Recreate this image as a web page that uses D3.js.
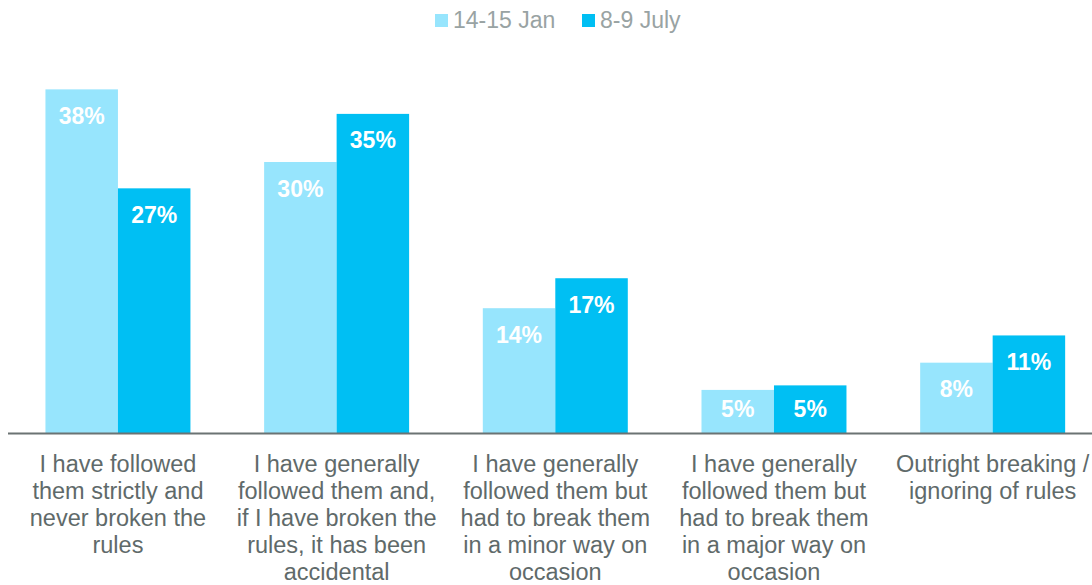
<!DOCTYPE html>
<meta charset="utf-8">
<script src="https://d3js.org/d3.v7.min.js"></script>
<style>
  body { margin: 0; background: #fff; }
  text { font-family: "Liberation Sans", Arial, sans-serif; }
</style>
<div id="chart"></div>
<script>

// categories (tick labels, one entry per line)
const categories = [
  ["I have followed", "them strictly and", "never broken the", "rules"],
  ["I have generally", "followed them and,", "if I have broken the", "rules, it has been", "accidental"],
  ["I have generally", "followed them but", "had to break them", "in a minor way on", "occasion"],
  ["I have generally", "followed them but", "had to break them", "in a major way on", "occasion"],
  ["Outright breaking /", "ignoring of rules"]
]
const seriesNames = ["14-15 Jan", "8-9 July"]
const jan = [37.9, 29.9, 13.8, 4.8, 7.8]
const july = [27.0, 35.2, 17.1, 5.3, 10.8]
const seriesColors = ["#97e5fd", "#00bff3"]

const width = 1092, height = 585
const baseY = 433.5

const svg = d3.select("#chart")
  .append("svg")
    .attr("width", width)
    .attr("height", height)

const catIds = categories.map((c, i) => i)

// group scale, the last group runs past the right edge like the original
const x0 = d3.scaleBand()
  .domain(catIds)
  .range([8.6, 1102])
  .paddingInner(0.337)
  .paddingOuter(0.1685)

const x1 = d3.scaleBand()
  .domain(seriesNames)
  .range([0, x0.bandwidth()])

const y = d3.scaleLinear()
  .domain([0, 38])
  .range([baseY, baseY - 38 * 9.08])

const color = d3.scaleOrdinal().domain(seriesNames).range(seriesColors)

const rows = catIds.map(i => ({
  cat: i,
  values: [
    {key: seriesNames[0], value: jan[i]},
    {key: seriesNames[1], value: july[i]}
  ]
}))

const groups = svg.selectAll("g.grp")
  .data(rows)
  .join("g")
    .attr("class", "grp")
    .attr("transform", d => `translate(${x0(d.cat)},0)`)

groups.selectAll("rect")
  .data(d => d.values)
  .join("rect")
    .attr("x", d => x1(d.key))
    .attr("y", d => y(d.value))
    .attr("width", x1.bandwidth())
    .attr("height", d => baseY - y(d.value))
    .attr("fill", d => color(d.key))

// value labels inside the bars
groups.selectAll("text.val")
  .data(d => d.values)
  .join("text")
    .attr("class", "val")
    .attr("x", d => x1(d.key) + x1.bandwidth() / 2)
    .attr("y", d => Math.min(y(d.value) + 34.5, baseY - 17))
    .attr("text-anchor", "middle")
    .attr("fill", "#fff")
    .style("font-size", "23px")
    .style("font-weight", "bold")
    .text(d => Math.round(d.value) + "%")

// baseline
svg.append("line")
  .attr("x1", 8)
  .attr("x2", width)
  .attr("y1", baseY)
  .attr("y2", baseY)
  .attr("stroke", "#6b7373")
  .attr("stroke-width", 2)

// category labels
const labels = svg.selectAll("text.cat")
  .data(rows)
  .join("text")
    .attr("class", "cat")
    .attr("text-anchor", "middle")
    .attr("fill", "#5f6a6a")
    .style("font-size", "23.5px")

labels.selectAll("tspan")
  .data(d => categories[d.cat].map(line => ({line, cat: d.cat})))
  .join("tspan")
    .attr("x", d => x0(d.cat) + x0.bandwidth() / 2)
    .attr("y", (d, i) => 472 + i * 27)
    .text(d => d.line)

// legend
const legendX = [435, 582]
const legend = svg.selectAll("g.leg")
  .data(seriesNames)
  .join("g")
    .attr("class", "leg")
    .attr("transform", (d, i) => `translate(${legendX[i]},0)`)

legend.append("rect")
  .attr("x", 0)
  .attr("y", 14)
  .attr("width", 13)
  .attr("height", 13)
  .attr("fill", d => color(d))

legend.append("text")
  .attr("x", 18)
  .attr("y", 27.5)
  .attr("fill", "#99a3a3")
  .style("font-size", "23px")
  .text(d => d)

</script>
